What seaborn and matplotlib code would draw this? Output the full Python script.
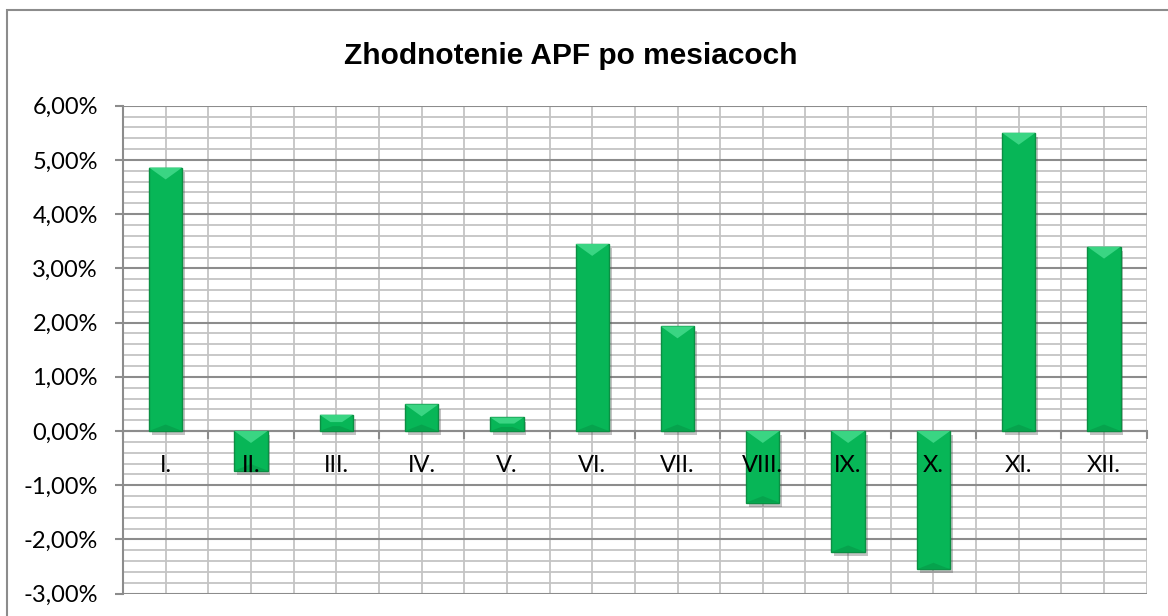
import matplotlib
matplotlib.use("Agg")
import matplotlib.pyplot as plt
import matplotlib.patheffects as pe
from matplotlib.patches import Polygon, Rectangle
from matplotlib.ticker import FixedLocator, FuncFormatter, MultipleLocator
from matplotlib import font_manager
import seaborn as sns
import pandas as pd

months = ["I.", "II.", "III.", "IV.", "V.", "VI.", "VII.", "VIII.", "IX.", "X.", "XI.", "XII."]
values = [4.86, -0.73, 0.30, 0.49, 0.25, 3.45, 1.93, -1.32, -2.23, -2.55, 5.50, 3.40]
y_ticks = [-3, -2, -1, 0, 1, 2, 3, 4, 5, 6]
title = "Zhodnotenie APF po mesiacoch"

sns.set_theme(style="white")
plt.rcParams["font.family"] = ["Lato", "DejaVu Sans"]
plt.rcParams["text.color"] = "black"

df = pd.DataFrame({"month": months, "value": values})

W, H = 1168, 616
fig = plt.figure(figsize=(W / 100, H / 100), dpi=100)
ax = fig.add_axes([123 / W, 1 - 593.7 / H, (1146.7 - 123) / W, (593.7 - 105.7) / H])

sns.barplot(data=df, x="month", y="value", color="#07b657", width=0.39,
            saturation=1, ax=ax, edgecolor="#0b8f43", linewidth=1, zorder=3)

ax.set_xlim(-0.5, len(months) - 0.5)
ax.set_ylim(-3, 6)

# grid
ax.set_axisbelow(True)
ax.yaxis.set_major_locator(FixedLocator(y_ticks))
ax.yaxis.set_minor_locator(MultipleLocator(0.2))
ax.yaxis.set_major_formatter(FuncFormatter(lambda v, p: f"{v:.2f}%".replace(".", ",")))
ax.grid(axis="y", which="major", color="#8c8c8c", linewidth=1.5, zorder=1)
ax.grid(axis="y", which="minor", color="#c4c4c4", linewidth=1.3, zorder=0)

bounds = [i - 0.5 for i in range(len(months) + 1)]
ax.xaxis.set_major_locator(FixedLocator(bounds))
ax.xaxis.set_minor_locator(FixedLocator(list(range(len(months)))))
ax.xaxis.set_major_formatter(FuncFormatter(lambda v, p: ""))
ax.xaxis.set_minor_formatter(FuncFormatter(lambda v, p: ""))
ax.grid(axis="x", which="both", color="#c4c4c4", linewidth=1.3, zorder=0)

ax.set_xlabel("")
ax.set_ylabel("")

for s in ["top", "right"]:
    ax.spines[s].set_visible(False)
ax.spines["left"].set_color("#8c8c8c")
ax.spines["left"].set_linewidth(1.5)
ax.spines["bottom"].set_position(("data", 0))
ax.spines["bottom"].set_color("#8c8c8c")
ax.spines["bottom"].set_linewidth(1.5)
ax.spines["bottom"].set_zorder(2)

ax.tick_params(axis="y", which="major", direction="out", length=6, width=1.5,
               color="#8c8c8c", pad=12, labelsize=17, labelcolor="black", left=True)
ax.tick_params(axis="y", which="minor", length=0)
ax.tick_params(axis="x", which="major", direction="out", length=6, width=1.5,
               color="#8c8c8c", bottom=True)
ax.tick_params(axis="x", which="minor", length=0, bottom=False)

# category labels next to the zero axis, drawn above the bars
for i, m in enumerate(months):
    ax.annotate(m, xy=(i, 0), xycoords="data", xytext=(0, -25), textcoords="offset points",
                ha="center", va="center", fontsize=17, color="black", zorder=6,
                annotation_clip=False)

# bevel effects and shadows, derived from the drawn bars
for p in list(ax.patches):
    p.set_path_effects([pe.SimplePatchShadow(offset=(2, -3), shadow_rgbFace="#555555", alpha=0.35),
                        pe.Normal()])
    x0 = p.get_x()
    w = p.get_width()
    y0 = p.get_y()
    h = p.get_height()
    top = max(y0, y0 + h)
    bot = min(y0, y0 + h)
    xc = x0 + w / 2
    full = 0.22
    d = min(full, abs(h) * 0.45)
    rem = (w / 2) * (1 - d / full) * 0.9
    ax.add_patch(Polygon([(x0, top), (x0 + w, top), (xc + rem, top - d), (xc - rem, top - d)],
                         closed=True, facecolor="#3ad583", edgecolor="none", zorder=4))
    db = min(0.12, abs(h) * 0.3)
    remb = (w / 2) * (1 - db / 0.12) * 0.9
    ax.add_patch(Polygon([(x0, bot), (x0 + w, bot), (xc + remb, bot + db), (xc - remb, bot + db)],
                         closed=True, facecolor="#06a34d", edgecolor="none", zorder=4))

names = {f.name for f in font_manager.fontManager.ttflist}
if "Liberation Sans Narrow" in names:
    tfam, tsize = ["Liberation Sans Narrow", "DejaVu Sans"], 27
elif "DejaVu Sans Condensed" in names:
    tfam, tsize = ["DejaVu Sans Condensed", "DejaVu Sans"], 24
else:
    tfam, tsize = ["Liberation Sans", "DejaVu Sans"], 21.5

fig.text(571 / W, 1 - 64 / H, title, ha="center", va="baseline", fontsize=tsize,
         fontweight="bold", family=tfam, fontstretch="condensed", color="black")

fig.patches.append(Rectangle((7 / W, -0.05), 1.2, 1 - 10 / H + 0.05, transform=fig.transFigure,
                             fill=False, edgecolor="#8c8c8c", linewidth=1.5, figure=fig))

fig.savefig("out.png", dpi=100, facecolor="white")
